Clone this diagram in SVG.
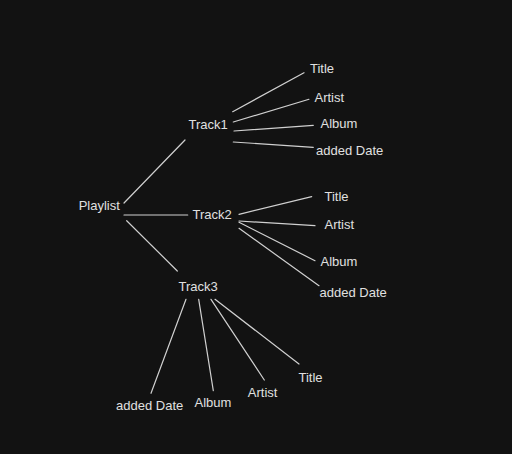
<svg xmlns="http://www.w3.org/2000/svg" width="512" height="454" viewBox="0 0 512 454">
<style>
text{font-family:"Liberation Sans",Arial,sans-serif;font-size:13px;fill:#e0e0e0}
.c line{stroke:#d0d0d0;stroke-width:1.2;stroke-linecap:round}
</style>
<rect width="512" height="454" fill="#121212"/>
<g class="c" id="connectors">
<line x1="124" y1="203" x2="185" y2="140"/>
<line x1="124" y1="215" x2="187.7" y2="215"/>
<line x1="126.7" y1="220.7" x2="177.3" y2="271"/>
<line x1="232.7" y1="111.7" x2="304" y2="72.7"/>
<line x1="233.3" y1="122" x2="309" y2="99.3"/>
<line x1="234" y1="131" x2="313.3" y2="125.3"/>
<line x1="233.3" y1="142" x2="313.3" y2="147.3"/>
<line x1="239" y1="214.3" x2="311.7" y2="196.7"/>
<line x1="239" y1="221" x2="315" y2="225.7"/>
<line x1="239" y1="222.3" x2="315" y2="260.7"/>
<line x1="239" y1="228.3" x2="319" y2="285.7"/>
<line x1="186" y1="299.3" x2="151" y2="393.3"/>
<line x1="198.7" y1="299.3" x2="213.3" y2="390.7"/>
<line x1="211" y1="299.3" x2="264.3" y2="380"/>
<line x1="215" y1="299.3" x2="299" y2="364"/>
</g>
<g id="playlist"><text x="78.7" y="210.3">Playlist</text></g>
<g id="track1"><text x="188.5" y="128.5">Track1</text></g>
<g id="track2"><text x="192.5" y="219.3">Track2</text></g>
<g id="track3"><text x="178.5" y="290.7">Track3</text></g>
<g id="t1-title"><text x="310" y="72.5">Title</text></g>
<g id="t1-artist"><text x="314.5" y="101.8">Artist</text></g>
<g id="t1-album"><text x="320.5" y="128">Album</text></g>
<g id="t1-date"><text x="316" y="154.8">added Date</text></g>
<g id="t2-title"><text x="324.5" y="200.8">Title</text></g>
<g id="t2-artist"><text x="324.5" y="229.3">Artist</text></g>
<g id="t2-album"><text x="320.5" y="265.8">Album</text></g>
<g id="t2-date"><text x="319.5" y="296.5">added Date</text></g>
<g id="t3-title"><text x="298.5" y="381.5">Title</text></g>
<g id="t3-artist"><text x="247.8" y="397.3">Artist</text></g>
<g id="t3-album"><text x="194.5" y="407.3">Album</text></g>
<g id="t3-date"><text x="116" y="409.8">added Date</text></g>
</svg>
